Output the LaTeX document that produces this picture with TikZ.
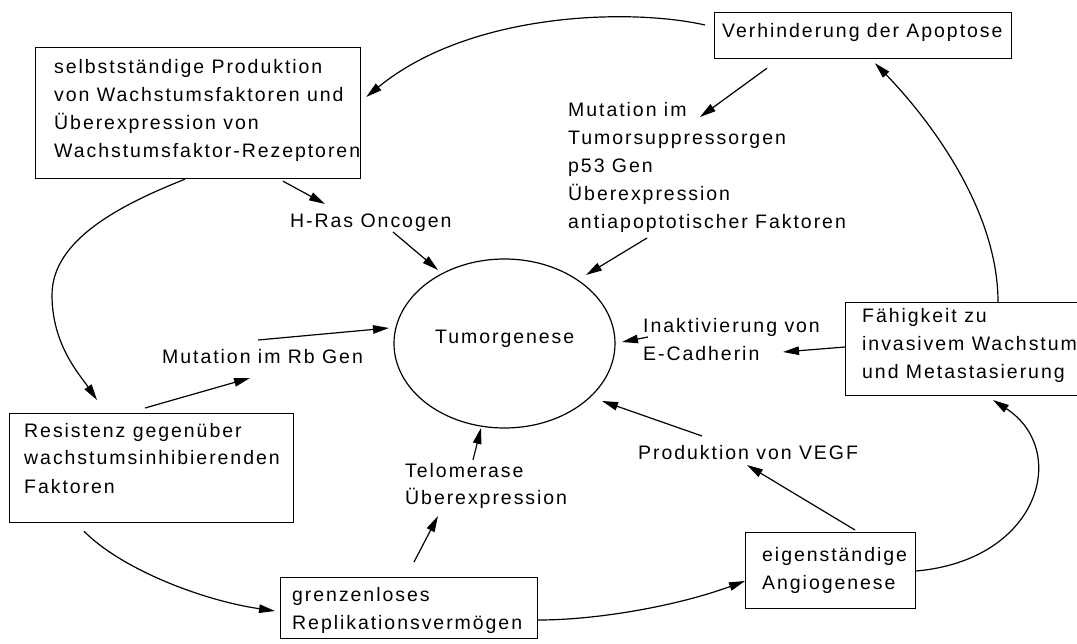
\documentclass[tikz,border=0pt]{standalone}
\usepackage{fontspec}
\setmainfont{Liberation Sans}[LetterSpace=10]
\usetikzlibrary{arrows.meta,calc,shapes.geometric}
\newcommand\lns[1]{\vtop{\baselineskip=28pt\halign{##\hfil\cr#1\crcr}}}
\begin{document}
\begin{tikzpicture}[x=1pt,y=-1pt,font=\fontsize{19.5}{28}\selectfont,
  box/.style={draw,line width=1.2pt,rectangle,inner sep=0pt,anchor=north west},
  txt/.style={inner sep=0pt,anchor=base west},
  conn/.style={line width=1.2pt,-{Triangle[length=16pt,width=8.5pt]}}]
\useasboundingbox (0,0) rectangle (1077,644);
\clip (0,0) rectangle (1077,644);
% boxes
\node[box,minimum width=325pt,minimum height=131pt] (A) at (35,47) {};
\node[box,minimum width=297pt,minimum height=46pt] (B) at (714,12) {};
\node[box,minimum width=260pt,minimum height=93pt] (C) at (845,302) {};
\node[box,minimum width=284pt,minimum height=109pt] (D) at (9,413) {};
\node[box,minimum width=257pt,minimum height=61pt] (E) at (280,577) {};
\node[box,minimum width=170pt,minimum height=76pt] (F) at (745,532) {};
\node[draw,ellipse,line width=1.2pt,minimum width=221pt,minimum height=169pt,inner sep=0pt] (T) at (504.5,343.5) {};
% texts
\node[txt] (At) at (54,74) {\lns{selbstständige Produktion\cr von Wachstumsfaktoren und\cr Überexpression von\cr Wachstumsfaktor-Rezeptoren}};
\node[txt] (Bt) at (722,38) {Verhinderung der Apoptose};
\node[txt] (Ct) at (862,323) {\lns{Fähigkeit zu\cr invasivem Wachstum\cr und Metastasierung}};
\node[txt] (Dt) at (24,437) {\lns{Resistenz gegenüber\cr wachstumsinhibierenden\cr Faktoren}};
\node[txt] (Et) at (292,601) {\lns{grenzenloses\cr Replikationsvermögen}};
\node[txt] (Ft) at (762,561) {\lns{eigenständige\cr Angiogenese}};
\node[txt] (Tt) at (435,344) {Tumorgenese};
\node[txt] (P) at (568,117) {\lns{Mutation im\cr Tumorsuppressorgen\cr p53 Gen\cr Überexpression\cr antiapoptotischer Faktoren}};
\node[txt] (H) at (290,228) {H-Ras Oncogen};
\node[txt] (R) at (162,364) {Mutation im Rb Gen};
\node[txt] (I) at (643,333) {\lns{Inaktivierung von\cr E-Cadherin}};
\node[txt] (V) at (638,459) {Produktion von VEGF};
\node[txt] (L) at (405,477) {\lns{Telomerase\cr Überexpression}};
% connectors
\draw[conn] ($(B.north west)+(-9,13)$) .. controls (630,8) and (470,12) .. ($(A.north east)+(5,50)$);
\draw[conn] ($(B.south west)+(53,9)$) -- ($(P.base west)+(132,0)$);
\draw[conn] ($(P.base west)+(79,121)$) -- ($(T.center)+(81.5,-68.5)$);
\draw[conn] ($(C.north west)+(153,0)$) .. controls (998,210) and (930,120) .. ($(B.south west)+(161,4)$);
\draw[conn] ($(C.north west)+(0,45)$) -- ($(I.base west)+(140,19)$);
\draw[conn] ($(I.base west)+(5,4)$) -- ($(T.center)+(117.5,-1.5)$);
\draw[conn] ($(F.north west)+(110,-2)$) -- ($(V.base west)+(109,6)$);
\draw[conn] ($(V.base west)+(64,-23)$) -- ($(T.center)+(97.5,57.5)$);
\draw[conn] ($(E.north east)+(0,43)$) .. controls (600,620) and (680,605) .. ($(F.north west)+(0,49)$);
\draw[conn] ($(E.north west)+(134,-15)$) -- ($(L.base west)+(33,39)$);
\draw[conn] ($(L.base west)+(68,-17)$) -- ($(T.center)+(-23.5,84.5)$);
\draw[conn] ($(D.south west)+(75,8)$) .. controls (120,568) and (200,600) .. ($(E.north west)+(-5,34)$);
\draw[conn] ($(A.south west)+(150,0)$) .. controls (120,205) and (52,240) .. (52,295) .. controls (52,345) and (80,375) .. ($(D.north west)+(88,-13)$);
\draw[conn] ($(D.north west)+(136,-5)$) -- ($(R.base west)+(88,14)$);
\draw[conn] ($(R.base west)+(96,-24)$) -- ($(T.center)+(-115.5,-15.5)$);
\draw[conn] ($(A.south west)+(248,2)$) -- ($(H.base west)+(35,-24)$);
\draw[conn] ($(H.base west)+(103,4)$) -- ($(T.center)+(-66.5,-73.5)$);
\draw[conn] ($(F.north east)+(0,39)$) .. controls (1040,560) and (1070,450) .. ($(C.north west)+(148,98)$);
\end{tikzpicture}
\end{document}
